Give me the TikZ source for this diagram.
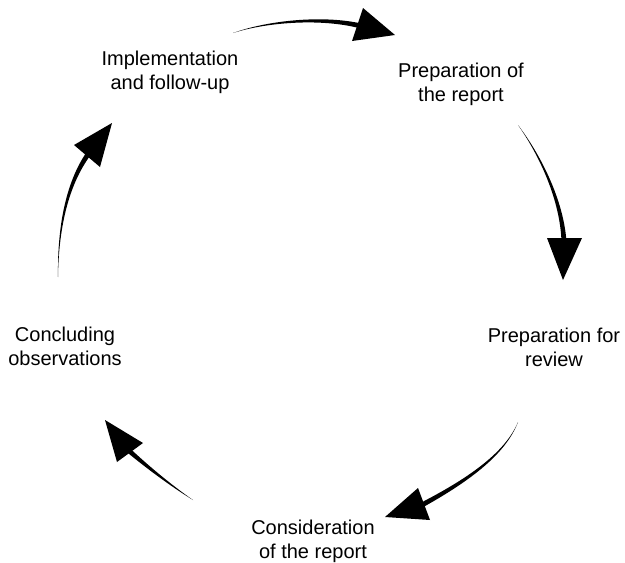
\documentclass[tikz,border=0pt]{standalone}
\usepackage{fontspec}
\setmainfont{Liberation Sans}
\usetikzlibrary{calc}
% #1 start, #2 ctrl1, #3 ctrl2, #4 shaft end, #5 half-width vector, #6 head corner, #7 tip, #8 head corner
\newcommand{\taparrow}[8]{%
  \fill[arrowbody] #1 .. controls ($#2+0.33*#5$) and ($#3+0.67*#5$) .. ($#4+#5$)
     -- ($#4-#5$) .. controls ($#3-0.67*#5$) and ($#2-0.33*#5$) .. #1 -- cycle;
  \fill[arrowbody] #6 -- #7 -- #8 -- cycle;}
\begin{document}
\begin{tikzpicture}[x=1pt,y=-1pt,
  lbl/.style={align=center,font=\fontsize{20}{24}\selectfont,inner sep=0pt},
  arrowbody/.style={fill=black}]
\useasboundingbox (0,0) rectangle (625,563);

\node[lbl] (impl) at (170,72.5) {Implementation\\and follow-up};
\node[lbl] (prep) at (461,84.5) {Preparation of\\the report};
\node[lbl] (rev)  at (554,347.4) {Preparation for\\review};
\node[lbl] (cons) at (313,541.5) {Consideration\\of the report};
\node[lbl] (conc) at (65,346) {Concluding\\observations};

\taparrow{(233,33)}{(265,22)}{(320,16)}{(361,26)}{(-0.59,2.43)}{(363,8)}{(395,35)}{(352,41)}
\taparrow{(518,125)}{(540,155)}{(562,200)}{(564,242)}{(2.5,-0.13)}{(547,238)}{(563,280)}{(582,238)}
\taparrow{(518,422)}{(505,455)}{(465,482)}{(420,506)}{(1.18,2.2)}{(418,488)}{(385,517)}{(430,520)}
\taparrow{(193,500)}{(170,485)}{(145,465)}{(127,449)}{(1.64,-1.89)}{(143,443)}{(105,420)}{(117,462)}
\taparrow{(58,277)}{(58,230)}{(66,185)}{(89,153)}{(2.03,1.47)}{(74,145)}{(112,123)}{(100,167)}
\end{tikzpicture}
\end{document}
